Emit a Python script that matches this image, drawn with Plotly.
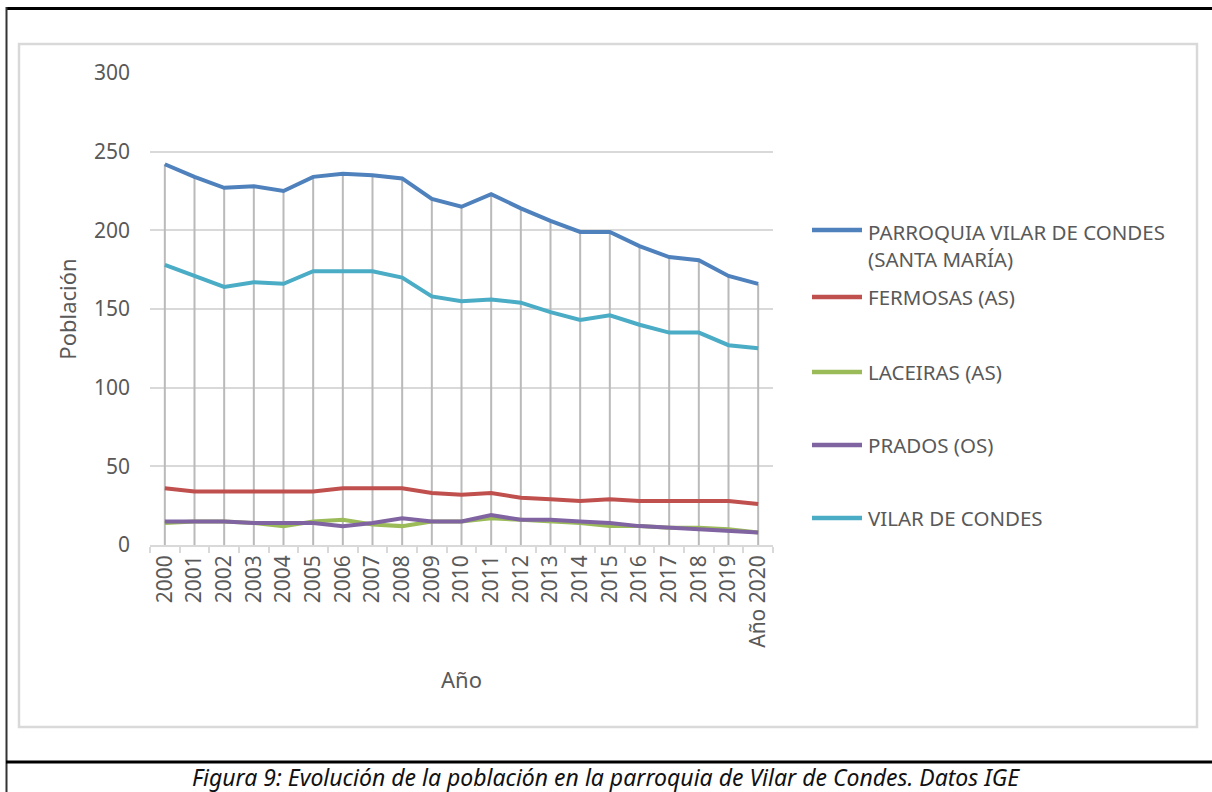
import plotly.graph_objects as go

W, H = 1212, 792

years = ["2000", "2001", "2002", "2003", "2004", "2005", "2006", "2007", "2008", "2009",
         "2010", "2011", "2012", "2013", "2014", "2015", "2016", "2017", "2018", "2019", "Año 2020"]
parroquia = [242, 234, 227, 228, 225, 234, 236, 235, 233, 220, 215, 223, 214, 206, 199, 199, 190, 183, 181, 171, 166]
fermosas = [36, 34, 34, 34, 34, 34, 36, 36, 36, 33, 32, 33, 30, 29, 28, 29, 28, 28, 28, 28, 26]
laceiras = [14, 15, 15, 14, 12, 15, 16, 13, 12, 15, 15, 17, 16, 15, 14, 12, 12, 11, 11, 10, 8]
prados = [15, 15, 15, 14, 14, 14, 12, 14, 17, 15, 15, 19, 16, 16, 15, 14, 12, 11, 10, 9, 8]
vilar = [178, 171, 164, 167, 166, 174, 174, 174, 170, 158, 155, 156, 154, 148, 143, 146, 140, 135, 135, 127, 125]

series_names = ["PARROQUIA VILAR DE CONDES<br>(SANTA MARÍA)", "FERMOSAS (AS)", "LACEIRAS (AS)",
                "PRADOS (OS)", "VILAR DE CONDES"]
series_values = [parroquia, fermosas, laceiras, prados, vilar]
colors = ["#4F81BD", "#C0504D", "#9BBB59", "#8064A2", "#4BACC6"]

y_ticks = [0, 50, 100, 150, 200, 250, 300]

FONT = "Noto Sans"
GRAY = "#595959"


def px(x):
    return x / W


def py(y):
    return 1 - y / H


fig = go.Figure()

# drop lines from the highest series down to zero
tops = [max(v) for v in zip(*series_values)]
dx, dy = [], []
for cat, top in zip(years, tops):
    dx += [cat, cat, None]
    dy += [0, top, None]
fig.add_trace(go.Scatter(x=dx, y=dy, mode="lines", line=dict(color="#BABABA", width=2),
                         hoverinfo="skip", showlegend=False))

for name, vals, col in zip(series_names, series_values, colors):
    fig.add_trace(go.Scatter(x=years, y=vals, mode="lines", name=name.replace("<br>", " "),
                             line=dict(color=col, width=4), showlegend=False))

shapes = []
annotations = []

# outer frame lines (document table)
shapes.append(dict(type="line", xref="paper", yref="paper", x0=px(6), x1=px(1212), y0=py(8.5), y1=py(8.5),
                   line=dict(color="black", width=3)))
shapes.append(dict(type="line", xref="paper", yref="paper", x0=px(6.5), x1=px(6.5), y0=py(7), y1=py(792),
                   line=dict(color="#333333", width=2)))
shapes.append(dict(type="line", xref="paper", yref="paper", x0=px(6), x1=px(1212), y0=py(762), y1=py(762),
                   line=dict(color="black", width=3)))
# chart area border
shapes.append(dict(type="rect", xref="paper", yref="paper", x0=px(19), x1=px(1197), y0=py(727), y1=py(44),
                   line=dict(color="#D9D9D9", width=2.5)))

# manual legend
legend_y = [230, 297, 372, 445, 518]
for name, col, ly in zip(series_names, colors, legend_y):
    shapes.append(dict(type="line", xref="paper", yref="paper", x0=px(812), x1=px(862), y0=py(ly), y1=py(ly),
                       line=dict(color=col, width=4.5)))
    multi = "<br>" in name
    annotations.append(dict(xref="paper", yref="paper", x=px(866), y=py(ly - 14) if multi else py(ly),
                            xanchor="left", yanchor="top" if multi else "middle", align="left",
                            text=name, showarrow=False, font=dict(family=FONT, size=20.5, color=GRAY)))

# caption
annotations.append(dict(xref="paper", yref="paper", x=px(606), y=py(777), xanchor="center", yanchor="middle",
                        text="<i>Figura 9: Evolución de la población en la parroquia de Vilar de Condes. Datos IGE</i>",
                        showarrow=False, font=dict(family=FONT, size=23, color="#111111")))

fig.update_layout(
    width=W, height=H,
    margin=dict(l=0, r=0, t=0, b=0),
    paper_bgcolor="white", plot_bgcolor="white",
    shapes=shapes, annotations=annotations,
    showlegend=False,
    font=dict(family=FONT, color=GRAY),
    xaxis=dict(domain=[px(150), px(773)], type="category", range=[-0.5, len(years) - 0.5],
               showgrid=False, showline=True, linecolor="#D9D9D9", linewidth=1.5,
               ticks="outside", tickson="boundaries", ticklen=6, tickcolor="#D9D9D9", tickwidth=1.5,
               tickangle=-90, tickfont=dict(family=FONT, size=21, color=GRAY),
               title=dict(text="Año", font=dict(family=FONT, size=22, color=GRAY), standoff=26),
               automargin=False, fixedrange=True),
    yaxis=dict(domain=[py(545), py(73)], range=[0, 300], tickvals=y_ticks,
               showgrid=True, gridcolor="#D9D9D9", gridwidth=1.5, zeroline=False, showline=False,
               tickfont=dict(family=FONT, size=21, color=GRAY), ticklabelstandoff=19,
               title=dict(text="Población", font=dict(family=FONT, size=22, color=GRAY), standoff=11),
               automargin=False, fixedrange=True),
)

fig.write_html(
    "out.html",
    config={"displayModeBar": False},
    post_script="document.body.style.margin='0';document.body.style.overflow='hidden';"
                "document.documentElement.style.overflow='hidden';",
)
